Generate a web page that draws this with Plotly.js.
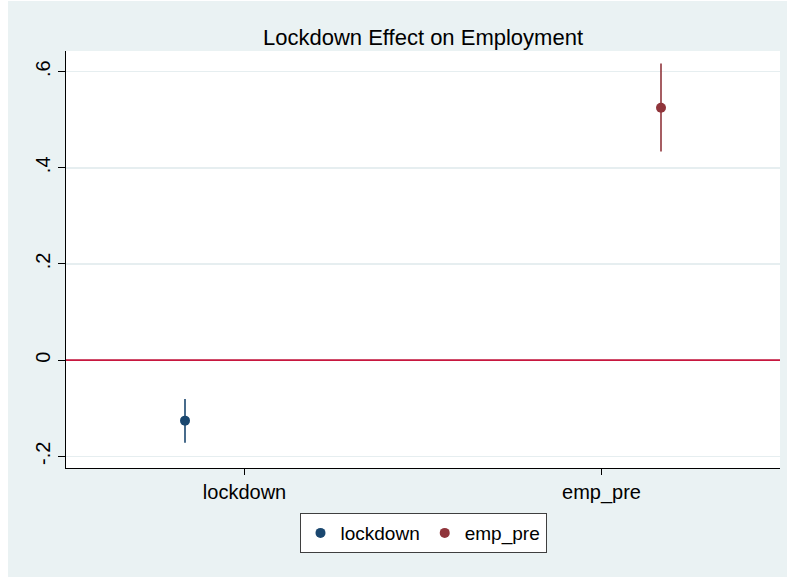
<!DOCTYPE html>
<html>
<head>
<meta charset="utf-8">
<script src="https://cdn.plot.ly/plotly-3.0.1.min.js"></script>
<style>
  html, body { margin: 0; padding: 0; background: #ffffff; }
  #chart { width: 787px; height: 577px; }
</style>
</head>
<body>
<div id="chart"></div>
<script>
// Coefficient estimates with 95% confidence intervals
const categories = ['lockdown', 'emp_pre'];
const seriesNames = ['lockdown', 'emp_pre'];
const coef = [-0.126, 0.525];
const ciLow = [-0.172, 0.434];
const ciHigh = [-0.081, 0.617];
const yTickVals = [-0.2, 0, 0.2, 0.4, 0.6];
const yTickText = ['-.2', '0', '.2', '.4', '.6'];

const colors = ['#1A476F', '#90353B'];
const FONT = 'Liberation Sans, Arial, Helvetica, sans-serif';
const xRange = [0.5, 2.5];

// each series sits beside its category, shifted left or right
const nSeries = seriesNames.length;
const traces = seriesNames.map((name, s) => {
  const shift = (s - (nSeries - 1) / 2) / 3;
  return {
    type: 'scatter',
    mode: 'markers',
    name: name,
    x: [s + 1 + shift],
    y: [coef[s]],
    marker: { color: colors[s], size: 10 },
    error_y: {
      type: 'data',
      symmetric: false,
      array: [ciHigh[s] - coef[s]],
      arrayminus: [coef[s] - ciLow[s]],
      color: colors[s],
      thickness: 1.6,
      width: 0
    },
    hoverinfo: 'x+y'
  };
});

const layout = {
  width: 787,
  height: 577,
  margin: { l: 66, r: 7, t: 51, b: 109 },
  paper_bgcolor: '#ffffff',
  plot_bgcolor: 'rgba(0,0,0,0)',
  font: { family: FONT, color: '#000000', size: 20 },
  title: {
    text: 'Lockdown Effect on Employment',
    font: { family: FONT, size: 22, color: '#000000' },
    x: 0.5, xref: 'paper', xanchor: 'center',
    y: 1 - 37 / 577, yref: 'container', yanchor: 'middle'
  },
  xaxis: {
    range: xRange,
    tickmode: 'array',
    tickvals: categories.map((c, i) => i + 1),
    ticktext: categories,
    ticks: 'outside', ticklen: 6, tickwidth: 1, tickcolor: '#000000',
    showgrid: false, zeroline: false,
    showline: true, linecolor: '#000000', linewidth: 1.3,
    tickfont: { family: FONT, size: 20, color: '#000000' }
  },
  yaxis: {
    range: [-0.2245, 0.643],
    tickmode: 'array',
    tickvals: yTickVals,
    ticktext: yTickText,
    tickangle: -90,
    ticks: 'outside', ticklen: 7, tickwidth: 1, tickcolor: '#000000',
    showgrid: true, gridcolor: '#E6EEF0', gridwidth: 1.4,
    zeroline: false,
    showline: true, linecolor: '#000000', linewidth: 1.3,
    tickfont: { family: FONT, size: 20, color: '#000000' }
  },
  shapes: [
    // outer graph region
    { type: 'rect', xref: 'paper', yref: 'paper', layer: 'below',
      x0: -58 / 714, x1: 721 / 714, y0: -109 / 417, y1: 467 / 417,
      fillcolor: '#EAF2F3', line: { width: 0 } },
    // plot region
    { type: 'rect', xref: 'paper', yref: 'paper', layer: 'below',
      x0: 0, x1: 1, y0: 0, y1: 1,
      fillcolor: '#ffffff', line: { width: 0 } },
    // reference line at zero, drawn over the gridlines but under the markers
    { type: 'line', xref: 'x', yref: 'y', layer: 'between',
      x0: xRange[0], x1: xRange[1], y0: 0, y1: 0,
      line: { color: '#C8173F', width: 1.6 } }
  ],
  showlegend: true,
  legend: {
    orientation: 'h',
    x: 0.5, xanchor: 'center',
    y: -0.108, yanchor: 'top',
    bgcolor: '#ffffff',
    bordercolor: '#3F3F3F', borderwidth: 1,
    font: { family: FONT, size: 19, color: '#000000' },
    itemwidth: 30
  }
};

Plotly.newPlot('chart', traces, layout, { displayModeBar: false, staticPlot: true });
</script>
</body>
</html>
